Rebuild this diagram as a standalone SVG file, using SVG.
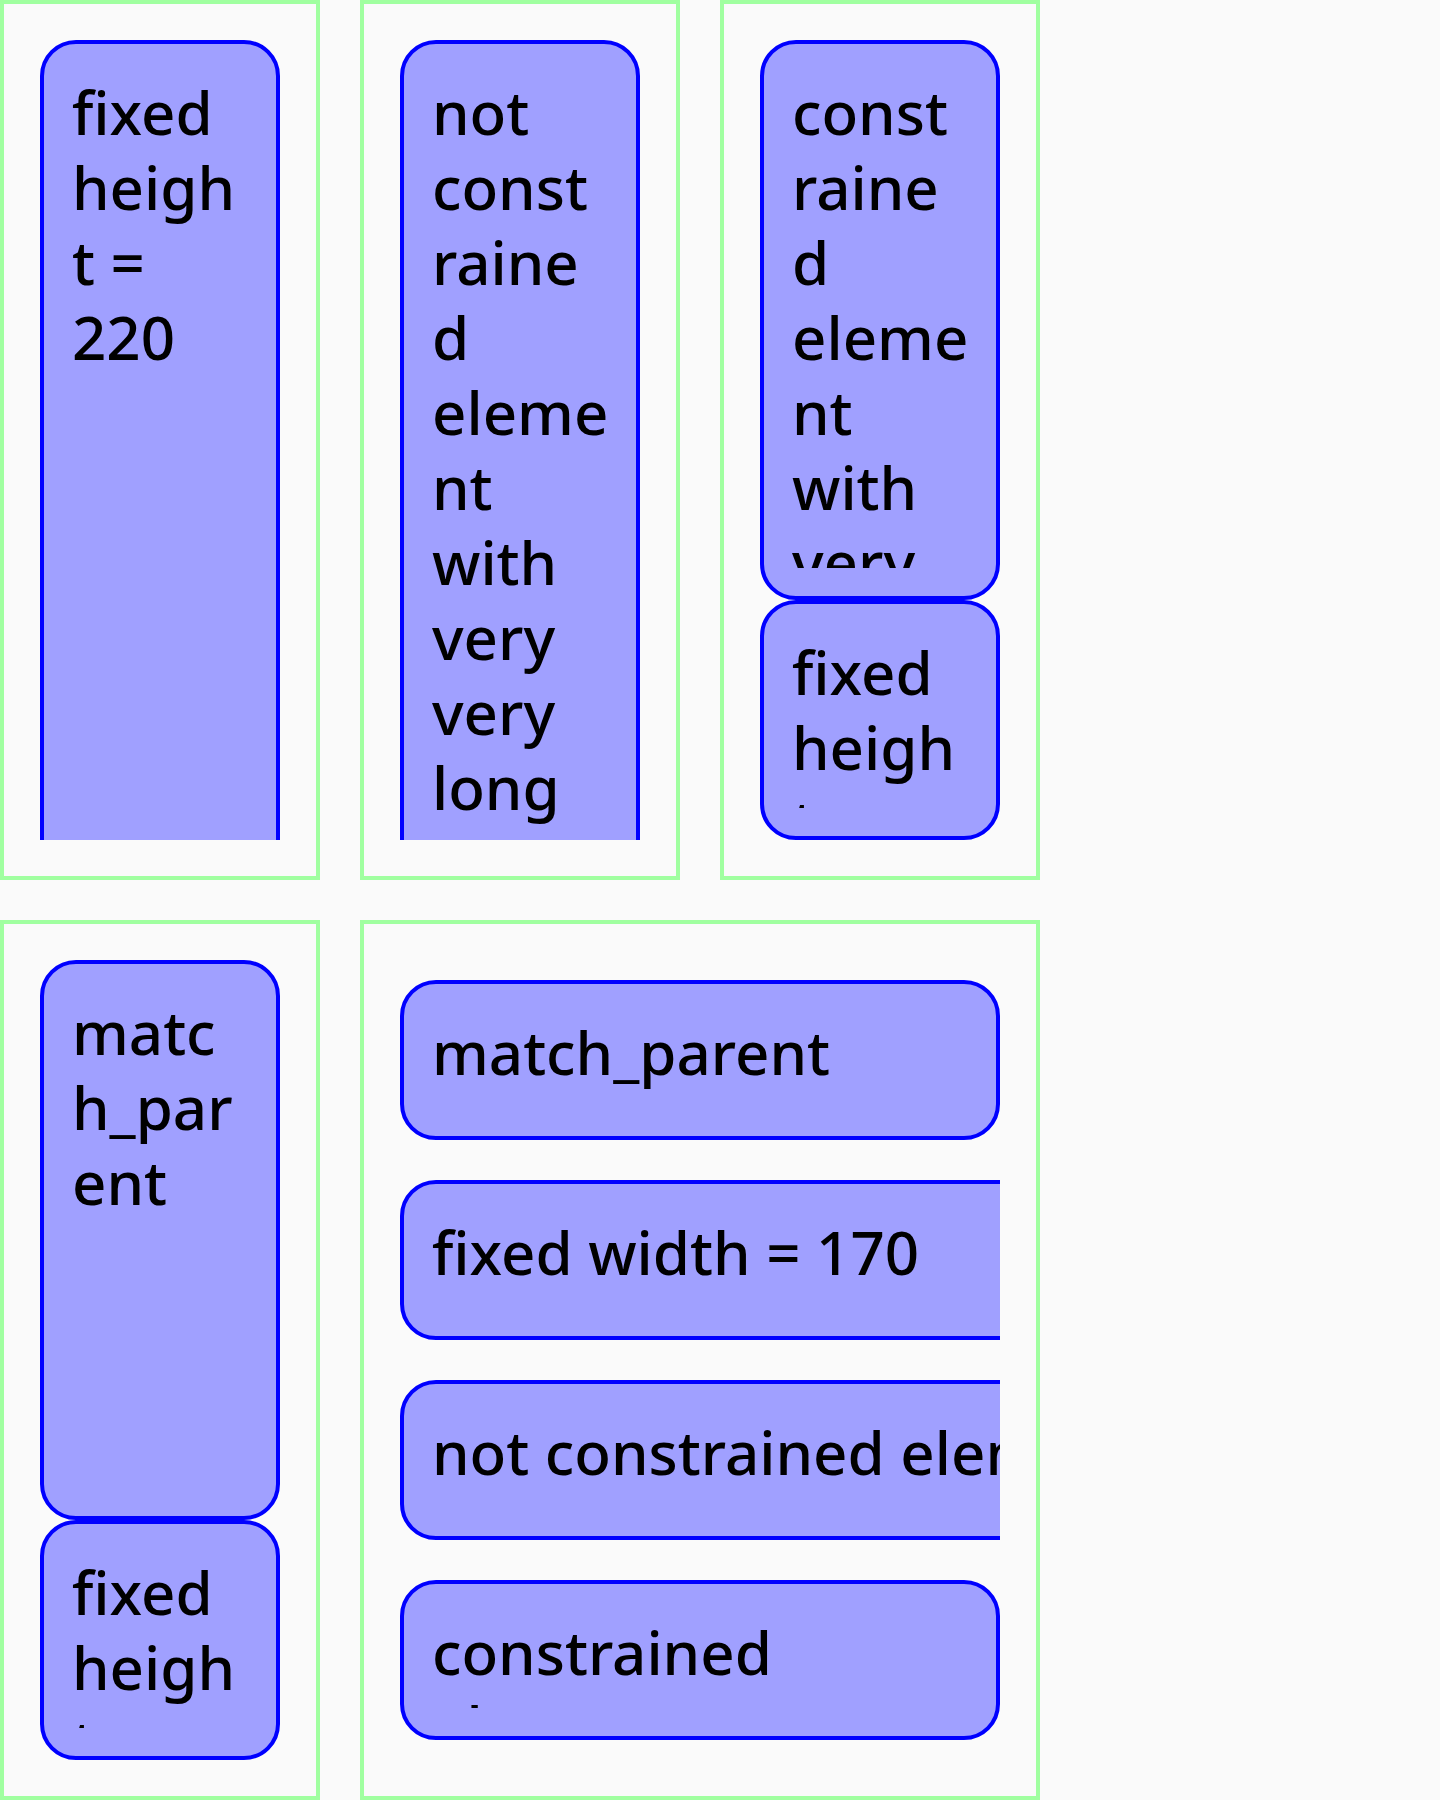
<svg xmlns="http://www.w3.org/2000/svg" width="1440" height="1800" viewBox="0 0 1440 1800">
  <style>
    .panel { fill: none; stroke: #a0ffa0; stroke-width: 4; }
    .box { fill: #a0a0ff; stroke: #0000ff; stroke-width: 4; }
    .lbl { font-family: "Noto Sans", "Open Sans", sans-serif; font-size: 60px; font-weight: 500; fill: #000000; }
  </style>
  <defs>
    <!-- content areas of the containers -->
    <clipPath id="clipA"><rect x="40" y="40" width="240" height="800"/></clipPath>
    <clipPath id="clipB"><rect x="400" y="40" width="240" height="800"/></clipPath>
    <clipPath id="clipE"><rect x="400" y="960" width="600" height="800"/></clipPath>
    <!-- text areas of the boxes that overflow -->
    <clipPath id="clipCtop"><rect x="760" y="72" width="240" height="496"/></clipPath>
    <clipPath id="clipCbot"><rect x="760" y="632" width="240" height="176"/></clipPath>
    <clipPath id="clipDbot"><rect x="40" y="1552" width="240" height="176"/></clipPath>
    <clipPath id="clipE4"><rect x="400" y="1612" width="600" height="96"/></clipPath>
  </defs>

  <rect x="0" y="0" width="1440" height="1800" fill="#fafafa"/>

  <!-- column with one fixed-height box -->
  <g id="panel-a">
    <rect class="panel" x="2" y="2" width="316" height="876"/>
    <g id="node-a1" clip-path="url(#clipA)">
      <rect class="box" x="42" y="42" width="236" height="900" rx="34"/>
      <text class="lbl" x="72" y="135">fixed</text>
      <text class="lbl" x="72" y="210">heigh</text>
      <text class="lbl" x="72" y="285">t =</text>
      <text class="lbl" x="72" y="360">220</text>
    </g>
  </g>

  <!-- column with one unconstrained box -->
  <g id="panel-b">
    <rect class="panel" x="362" y="2" width="316" height="876"/>
    <g id="node-b1" clip-path="url(#clipB)">
      <rect class="box" x="402" y="42" width="236" height="900" rx="34"/>
      <text class="lbl" x="432" y="135">not</text>
      <text class="lbl" x="432" y="210">const</text>
      <text class="lbl" x="432" y="285">raine</text>
      <text class="lbl" x="432" y="360">d</text>
      <text class="lbl" x="432" y="435">eleme</text>
      <text class="lbl" x="432" y="510">nt</text>
      <text class="lbl" x="432" y="585">with</text>
      <text class="lbl" x="432" y="660">very</text>
      <text class="lbl" x="432" y="735">very</text>
      <text class="lbl" x="432" y="810">long</text>
    </g>
  </g>

  <!-- column: constrained box above a fixed-height box -->
  <g id="panel-c">
    <rect class="panel" x="722" y="2" width="316" height="876"/>
    <g id="node-c1">
      <rect class="box" x="762" y="42" width="236" height="556" rx="34"/>
      <g clip-path="url(#clipCtop)">
        <text class="lbl" x="792" y="135">const</text>
        <text class="lbl" x="792" y="210">raine</text>
        <text class="lbl" x="792" y="285">d</text>
        <text class="lbl" x="792" y="360">eleme</text>
        <text class="lbl" x="792" y="435">nt</text>
        <text class="lbl" x="792" y="510">with</text>
        <text class="lbl" x="792" y="585">very</text>
      </g>
    </g>
    <g id="node-c2">
      <rect class="box" x="762" y="602" width="236" height="236" rx="34"/>
      <g clip-path="url(#clipCbot)">
        <text class="lbl" x="792" y="695">fixed</text>
        <text class="lbl" x="792" y="770">heigh</text>
        <text class="lbl" x="792" y="845">t</text>
      </g>
    </g>
  </g>

  <!-- column: match_parent box above a fixed-height box -->
  <g id="panel-d">
    <rect class="panel" x="2" y="922" width="316" height="876"/>
    <g id="node-d1">
      <rect class="box" x="42" y="962" width="236" height="556" rx="34"/>
      <text class="lbl" x="72" y="1055">matc</text>
      <text class="lbl" x="72" y="1130">h_par</text>
      <text class="lbl" x="72" y="1205">ent</text>
    </g>
    <g id="node-d2">
      <rect class="box" x="42" y="1522" width="236" height="236" rx="34"/>
      <g clip-path="url(#clipDbot)">
        <text class="lbl" x="72" y="1615">fixed</text>
        <text class="lbl" x="72" y="1690">heigh</text>
        <text class="lbl" x="72" y="1765">t</text>
      </g>
    </g>
  </g>

  <!-- wide column with four rows -->
  <g id="panel-e">
    <rect class="panel" x="362" y="922" width="676" height="876"/>
    <g clip-path="url(#clipE)">
      <g id="node-e1">
        <rect class="box" x="402" y="982" width="596" height="156" rx="34"/>
        <text class="lbl" x="432" y="1075">match_parent</text>
      </g>
      <g id="node-e2">
        <rect class="box" x="402" y="1182" width="800" height="156" rx="34"/>
        <text class="lbl" x="432" y="1275">fixed width = 170</text>
      </g>
      <g id="node-e3">
        <rect class="box" x="402" y="1382" width="800" height="156" rx="34"/>
        <text class="lbl" x="432" y="1475">not constrained elem</text>
      </g>
      <g id="node-e4">
        <rect class="box" x="402" y="1582" width="596" height="156" rx="34"/>
        <g clip-path="url(#clipE4)">
          <text class="lbl" x="432" y="1675">constrained</text>
          <text class="lbl" x="432" y="1750">el</text>
        </g>
      </g>
    </g>
  </g>
</svg>
